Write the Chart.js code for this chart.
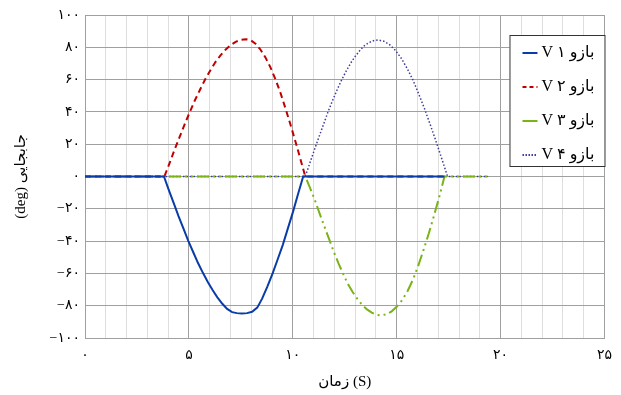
<!DOCTYPE html>
<html>
<head>
<meta charset="utf-8">
<script src="https://cdn.jsdelivr.net/npm/chart.js@4.4.1/dist/chart.umd.min.js"></script>
<style>
  html, body { margin: 0; padding: 0; background: #fff; }
  #wrap { width: 621px; height: 395px; }
</style>
</head>
<body>
<div id="wrap"><canvas id="chart" width="621" height="395"></canvas></div>
<script>
// Series: time (s) and displacement (deg)
const v1Time  = [0, 3.8, 4.03, 4.27, 4.50, 4.74, 4.97, 5.21, 5.44, 5.68, 5.91, 6.14, 6.37, 6.61, 6.84, 7.08, 7.31, 7.55,
                 7.80, 8.04, 8.29, 8.53, 8.78, 9.03, 9.27, 9.52, 9.76, 10.01, 10.25, 10.5, 17.3];
const v1Angle = [0, 0, -8.3, -16.5, -24.5, -32.3, -39.8, -46.9, -53.6, -59.8, -65.3, -70.3, -74.8, -78.8, -82.0, -84.0, -84.6, -84.8,
                 -84.6, -83.8, -81.2, -75.5, -68.0, -60.0, -51.4, -42.3, -32.3, -21.9, -11.0, 0, 0];

const v2Time  = [0, 3.82, 4.07, 4.31, 4.56, 4.80, 5.05, 5.29, 5.54, 5.78, 6.03, 6.27, 6.52, 6.76, 7.01, 7.25, 7.50, 7.74,
                 7.98, 8.22, 8.45, 8.69, 8.93, 9.17, 9.41, 9.64, 9.88, 10.12, 10.36, 10.6, 17.3];
const v2Angle = [0, 0, 8.3, 16.6, 24.7, 32.5, 40.1, 47.2, 53.9, 60.1, 65.7, 70.7, 75.0, 78.5, 81.3, 83.4, 84.6, 85,
                 84.3, 82.1, 78.5, 73.6, 67.4, 60.1, 51.7, 42.5, 32.5, 22.0, 11.1, 0, 0];

const v3Time  = [0, 10.6, 10.83, 11.06, 11.28, 11.51, 11.74, 11.97, 12.20, 12.43, 12.65, 12.88, 13.11, 13.34, 13.57, 13.80, 14.02, 14.25,
                 14.50, 14.76, 15.01, 15.27, 15.52, 15.78, 16.03, 16.28, 16.54, 16.79, 17.05, 17.3, 19.4];
const v3Angle = [0, 0, -7.0, -14.5, -22.5, -30.5, -38.5, -46.5, -53.8, -60.5, -66.5, -71.5, -75.8, -79.5, -82.3, -84.3, -85.6, -86,
                 -85.3, -83.5, -80.5, -76.5, -71.0, -64.0, -55.5, -46.0, -35.5, -24.5, -12.5, 0, 0];

const v4Time  = [0, 10.6, 10.82, 11.04, 11.26, 11.48, 11.69, 11.91, 12.13, 12.35, 12.57, 12.79, 13.01, 13.23, 13.44, 13.66, 13.88, 14.1,
                 14.38, 14.66, 14.94, 15.22, 15.50, 15.78, 16.05, 16.33, 16.61, 16.89, 17.17, 17.45, 19.4];
const v4Angle = [0, 0, 8.3, 16.5, 24.5, 32.3, 39.8, 46.9, 53.6, 59.8, 65.3, 70.3, 74.5, 78.1, 80.9, 82.9, 84.1, 84.5,
                 83.8, 81.6, 78.1, 73.2, 67.0, 59.8, 51.4, 42.3, 32.3, 21.9, 11.0, 0, 0];

const seriesLabels = ['V ۱ بازو', 'V ۲ بازو', 'V ۳ بازو', 'V ۴ بازو'];
const xTickLabels = ['۰', '۵', '۱۰', '۱۵', '۲۰', '۲۵'];
const yTickLabels = ['−۱۰۰', '−۸۰', '−۶۰', '−۴۰', '−۲۰', '۰', '۲۰', '۴۰', '۶۰', '۸۰', '۱۰۰'];

const serif = '"Liberation Serif", "DejaVu Serif", "DejaVu Sans", serif';

function toPoints(xs, ys) {
  return xs.map((x, i) => ({ x: x, y: ys[i] }));
}

// legend in a bordered box inside the plot, top right
const boxedLegend = {
  id: 'boxedLegend',
  afterDraw(chart) {
    const ctx = chart.ctx;
    const area = chart.chartArea;
    const w = 96, h = 132;
    const left = area.right - w + 1;
    const top = area.top + 20;
    ctx.save();
    ctx.fillStyle = '#fff';
    ctx.fillRect(left, top, w, h);
    ctx.strokeStyle = '#333';
    ctx.lineWidth = 1;
    ctx.strokeRect(left + 0.5, top + 0.5, w - 1, h - 1);
    chart.data.datasets.forEach((ds, i) => {
      const y = top + 18 + i * 34;
      ctx.beginPath();
      ctx.setLineDash(ds.legendDash || []);
      ctx.strokeStyle = ds.borderColor;
      ctx.lineWidth = 2;
      ctx.moveTo(left + 13, y);
      ctx.lineTo(left + 28, y);
      ctx.stroke();
      ctx.setLineDash([]);
      ctx.fillStyle = '#000';
      ctx.font = '16px ' + serif;
      ctx.textBaseline = 'middle';
      ctx.textAlign = 'left';
      ctx.fillText(ds.label, left + 32, y);
    });
    ctx.restore();
  }
};

const ctx = document.getElementById('chart').getContext('2d');
new Chart(ctx, {
  type: 'line',
  data: {
    datasets: [
      {
        label: seriesLabels[0],
        data: toPoints(v1Time, v1Angle),
        borderColor: '#0a3ca8',
        borderWidth: 2,
        legendDash: []
      },
      {
        label: seriesLabels[1],
        data: toPoints(v2Time, v2Angle),
        borderColor: '#c00000',
        borderWidth: 2,
        borderDash: [6, 4],
        legendDash: [4, 3]
      },
      {
        label: seriesLabels[2],
        data: toPoints(v3Time, v3Angle),
        borderColor: '#7ab317',
        borderWidth: 2,
        borderDash: [12, 4, 2, 4, 2, 4],
        legendDash: []
      },
      {
        label: seriesLabels[3],
        data: toPoints(v4Time, v4Angle),
        borderColor: '#3c3c9c',
        borderWidth: 1.5,
        borderDash: [1.5, 2],
        legendDash: [1.5, 1.5]
      }
    ]
  },
  options: {
    responsive: false,
    animation: false,
    layout: { padding: { top: 15, right: 13, left: 0, bottom: 0 } },
    elements: {
      point: { radius: 0 },
      line: { tension: 0, fill: false }
    },
    plugins: {
      legend: { display: false },
      tooltip: { enabled: false }
    },
    scales: {
      x: {
        type: 'linear',
        min: 0,
        max: 25,
        afterFit: s => { s.height = 57; },
        border: { color: '#a0a0a0' },
        grid: {
          drawTicks: false,
          color: c => (c.tick && c.tick.value % 5 === 0) ? '#a0a0a0' : '#dedede'
        },
        ticks: {
          stepSize: 1,
          autoSkip: false,
          maxRotation: 0,
          padding: 9,
          color: '#000',
          font: { family: serif, size: 14 },
          callback: v => (v % 5 === 0) ? xTickLabels[v / 5] : ''
        },
        title: {
          display: true,
          text: 'زمان (S)',
          color: '#000',
          font: { family: serif, size: 15 },
          padding: { top: 0, bottom: 4 }
        }
      },
      y: {
        min: -100,
        max: 100,
        afterFit: s => { s.width = 85; },
        border: { color: '#a0a0a0' },
        grid: { drawTicks: false, color: '#a0a0a0' },
        ticks: {
          stepSize: 20,
          padding: 5,
          color: '#000',
          font: { family: serif, size: 14 },
          callback: v => yTickLabels[(v + 100) / 20]
        },
        title: {
          display: true,
          text: '(deg) جابجایی',
          color: '#000',
          font: { family: serif, size: 15 },
          padding: { top: 12, bottom: 0 }
        }
      }
    }
  },
  plugins: [boxedLegend]
});
</script>
</body>
</html>
